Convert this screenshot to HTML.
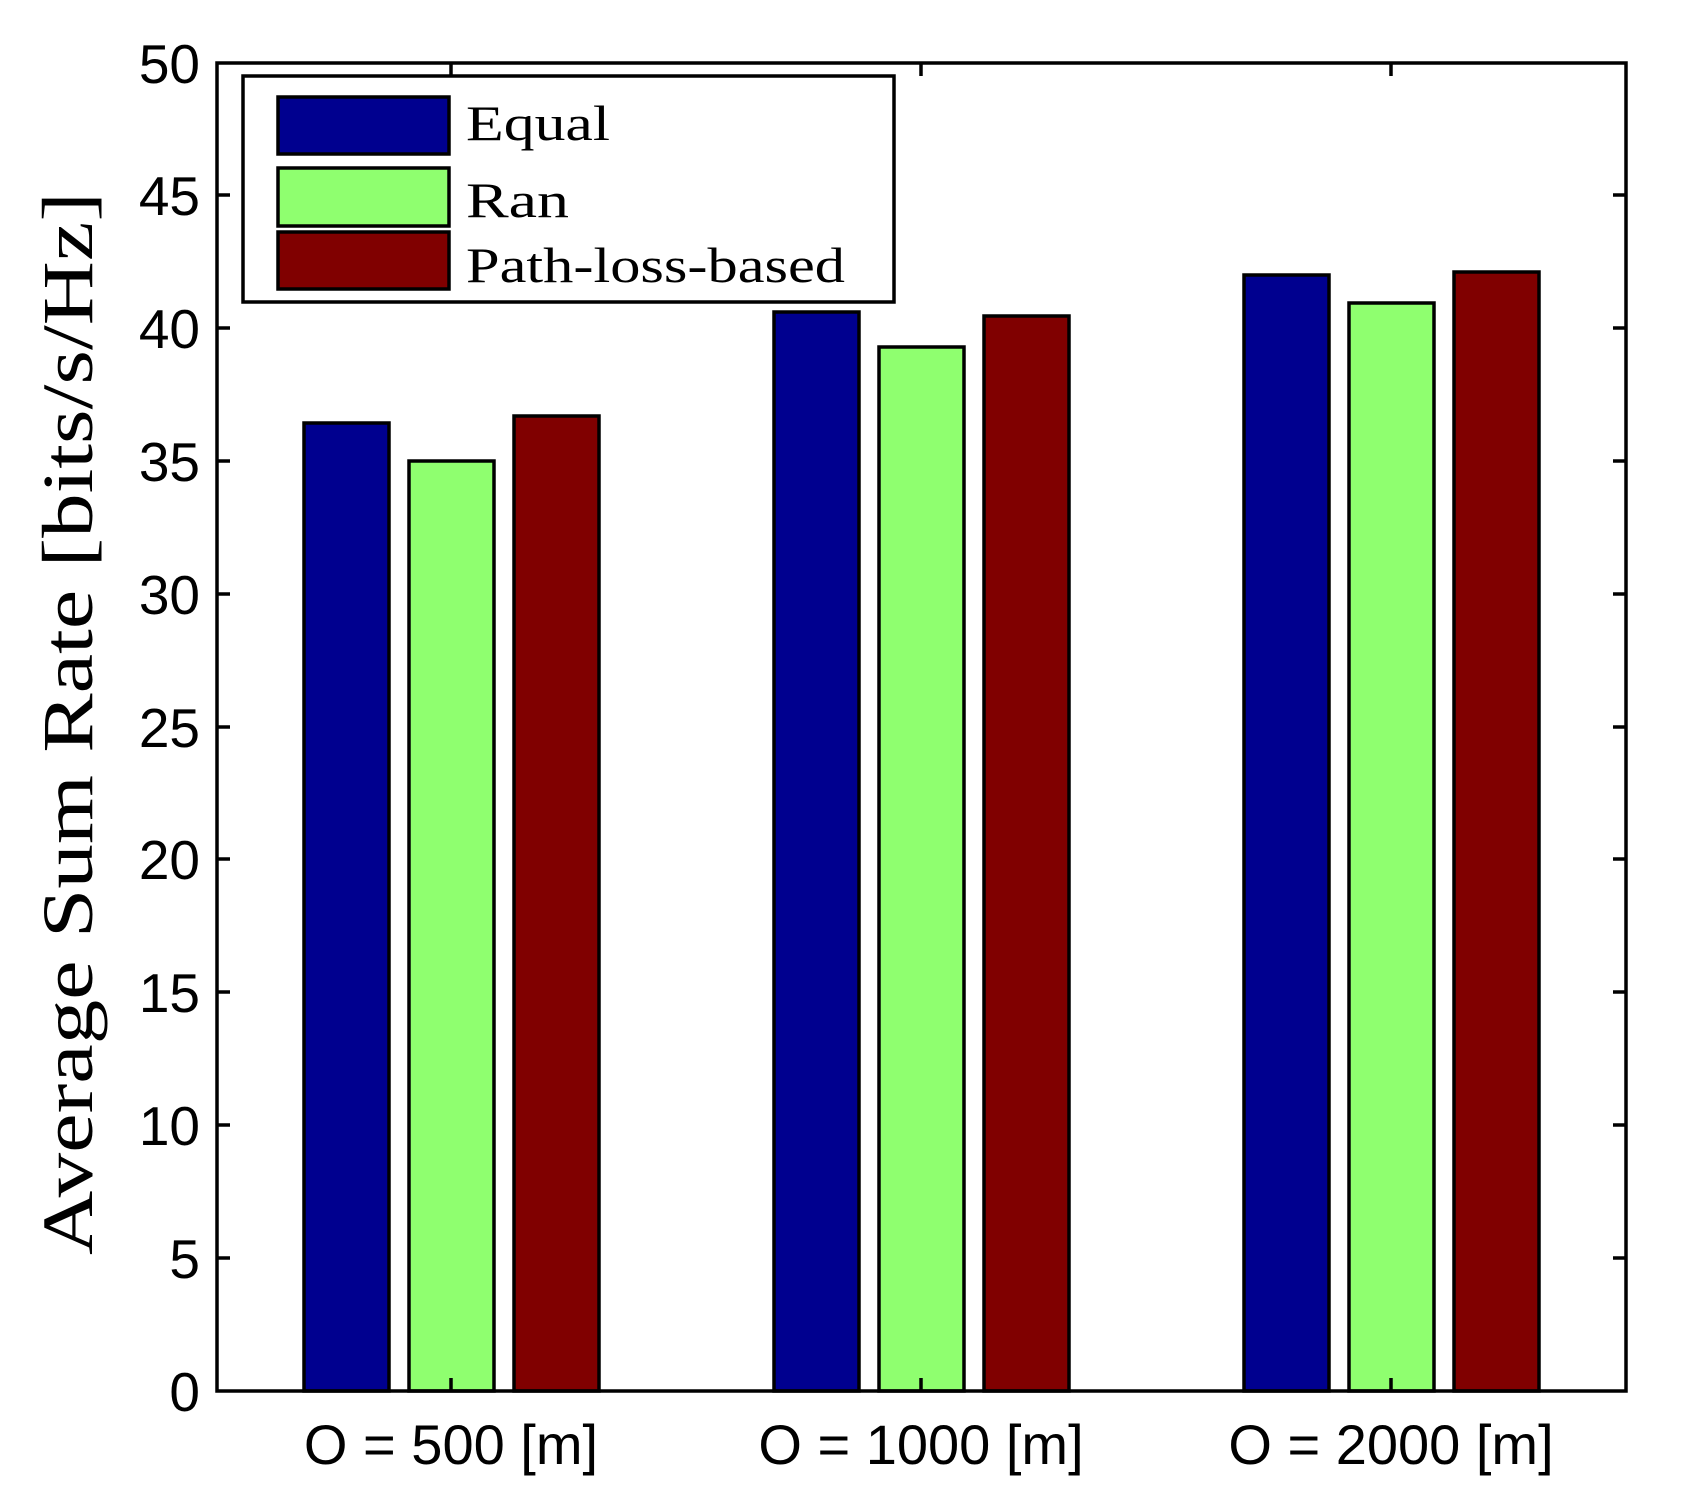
<!DOCTYPE html>
<html><head><style>body{margin:0;background:#fff}</style></head><body>
<svg width="1688" height="1507" xmlns="http://www.w3.org/2000/svg">
<rect width="1688" height="1507" fill="#fff"/>
<g stroke="#000" stroke-width="3.5">
<rect x="304" y="423" width="85" height="968" fill="#00008f"/>
<rect x="409" y="461" width="85" height="930" fill="#8fff6f"/>
<rect x="514" y="416" width="85" height="975" fill="#800000"/>
<rect x="774" y="312" width="85" height="1079" fill="#00008f"/>
<rect x="879" y="347" width="85" height="1044" fill="#8fff6f"/>
<rect x="984" y="316" width="85" height="1075" fill="#800000"/>
<rect x="1244" y="275" width="85" height="1116" fill="#00008f"/>
<rect x="1349" y="303" width="85" height="1088" fill="#8fff6f"/>
<rect x="1454" y="272" width="85" height="1119" fill="#800000"/>
<rect x="217" y="63" width="1409" height="1328" fill="none"/>
<path d="M217 1258h13M217 1125h13M217 992h13M217 859h13M217 727h13M217 594h13M217 461h13M217 328h13M217 195h13M1626 1258h-13M1626 1125h-13M1626 992h-13M1626 859h-13M1626 727h-13M1626 594h-13M1626 461h-13M1626 328h-13M1626 195h-13M451 63v13M921 63v13M1391 63v13M451 1391v-13M921 1391v-13M1391 1391v-13"/>
<rect x="243" y="76" width="651" height="226" fill="#fff"/>
<rect x="278" y="97" width="171" height="57" fill="#00008f"/>
<rect x="278" y="168" width="171" height="58" fill="#8fff6f"/>
<rect x="278" y="232" width="171" height="57" fill="#800000"/>
</g>
<g font-family="Liberation Serif, serif" font-size="50" fill="#000">
<text x="466" y="140" textLength="144" lengthAdjust="spacingAndGlyphs">Equal</text>
<text x="466" y="217" textLength="103" lengthAdjust="spacingAndGlyphs">Ran</text>
<text x="466" y="282" textLength="379" lengthAdjust="spacingAndGlyphs">Path-loss-based</text>
<text transform="translate(92,1255) rotate(-90)" font-size="72" textLength="1063" lengthAdjust="spacingAndGlyphs">Average Sum Rate [bits/s/Hz]</text>
</g>
<g font-family="Liberation Sans, sans-serif" font-size="55" fill="#000" text-anchor="end">
<text x="200" y="1411">0</text><text x="200" y="1278">5</text><text x="200" y="1145">10</text>
<text x="200" y="1012">15</text><text x="200" y="879">20</text><text x="200" y="747">25</text>
<text x="200" y="614">30</text><text x="200" y="481">35</text><text x="200" y="348">40</text>
<text x="200" y="215">45</text><text x="200" y="83">50</text>
</g>
<g font-family="Liberation Sans, sans-serif" font-size="56" fill="#000" text-anchor="middle">
<text x="451" y="1464">O = 500 [m]</text>
<text x="921" y="1464">O = 1000 [m]</text>
<text x="1391" y="1464">O = 2000 [m]</text>
</g>
</svg>
</body></html>
